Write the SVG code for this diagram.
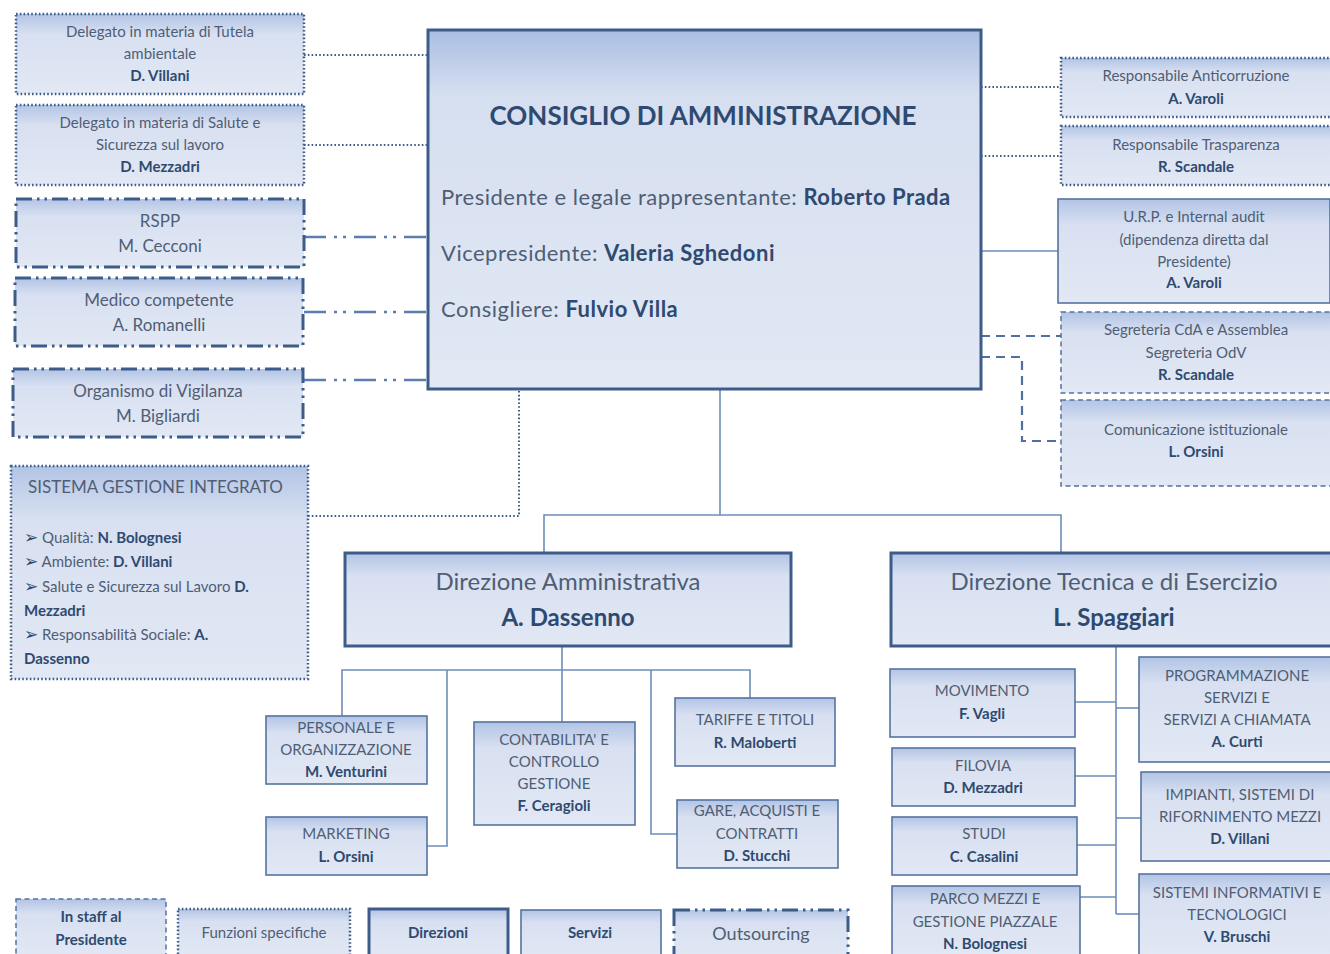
<svg xmlns="http://www.w3.org/2000/svg" width="1330" height="954" viewBox="0 0 1330 954">
<defs>
<linearGradient id="g" x1="0" y1="0" x2="0" y2="1">
<stop offset="0" stop-color="#a9bee2"/>
<stop offset="0.18" stop-color="#d6dff0"/>
<stop offset="1" stop-color="#e2e8f4"/>
</linearGradient>
<linearGradient id="gs" x1="0" y1="0" x2="0" y2="1">
<stop offset="0" stop-color="#b2c4e5"/>
<stop offset="0.25" stop-color="#d8e0f1"/>
<stop offset="1" stop-color="#e2e8f4"/>
</linearGradient>
<style>
.box{fill:url(#gs)}
.big{fill:url(#g)}
.thick{stroke:#3d5c8a;stroke-width:3}
.thin{stroke:#5573a0;stroke-width:1.6}
.dot{stroke:#3d5c8a;stroke-width:2.5;stroke-dasharray:1.6 2.2}
.dash{stroke:#5573a0;stroke-width:1.5;stroke-dasharray:5 3.5}
.dd{stroke:#3d5c8a;stroke-width:3;stroke-dasharray:16 5 2.5 5 2.5 5}
.c{fill:none;stroke:#6d8dba;stroke-width:1.6}
.cdot{fill:none;stroke:#3d5c8a;stroke-width:2;stroke-dasharray:1.6 2.2}
.cdd{fill:none;stroke:#5b7eae;stroke-width:2.5;stroke-dasharray:22 8 3 6 3 8}
.cdash{fill:none;stroke:#4f71a0;stroke-width:2.2;stroke-dasharray:9 6}
text{font-family:Lato,"Liberation Sans",sans-serif;fill:#4f5e75;font-size:15px}
.m{text-anchor:middle}
.b{font-weight:bold;fill:#2e4a70}
.s17{font-size:17px}
.s22{font-size:22px;letter-spacing:0.5px}
.s24{font-size:24px}
.bul{font-family:"DejaVu Sans",sans-serif;font-size:17px;fill:#2e4a70}
</style>
</defs>

<g id="connectors">
<polyline class="cdot" points="304,55 428,55"/>
<polyline class="cdot" points="304,145 428,145"/>
<polyline class="cdd" points="304,237 428,237"/>
<polyline class="cdd" points="304,312 428,312"/>
<polyline class="cdd" points="304,380 428,380"/>
<polyline class="cdot" points="308,516 519,516 519,390"/>
<polyline class="cdot" points="981,87 1061,87"/>
<polyline class="cdot" points="981,156 1061,156"/>
<polyline class="c" points="981,251 1058,251"/>
<polyline class="cdash" points="981,336 1061,336"/>
<polyline class="cdash" points="981,357 1022,357 1022,441 1061,441"/>
<polyline class="c" points="720,390 720,515"/>
<polyline class="c" points="544,553 544,515 1061,515 1061,553"/>
<polyline class="c" points="562,646 562,670"/>
<polyline class="c" points="342,716 342,670 750,670 750,698"/>
<polyline class="c" points="447,670 447,846 427,846"/>
<polyline class="c" points="562,670 562,722"/>
<polyline class="c" points="651,670 651,834 677,834"/>
<polyline class="c" points="1116,646 1116,914"/>
<polyline class="c" points="1075,702 1116,702"/>
<polyline class="c" points="1075,776 1116,776"/>
<polyline class="c" points="1077,845 1116,845"/>
<polyline class="c" points="1080,897 1116,897"/>
<polyline class="c" points="1116,708 1139,708"/>
<polyline class="c" points="1116,818 1141,818"/>
<polyline class="c" points="1116,914 1139,914"/>
</g>

<g id="n-tutela">
<rect class="box dot" x="16" y="14" width="288" height="80"/>
<text class="m" x="160" y="37">Delegato in materia di Tutela</text>
<text class="m" x="160" y="59">ambientale</text>
<text class="m b" x="160" y="81">D. Villani</text>
</g>
<g id="n-salute">
<rect class="box dot" x="16" y="105" width="288" height="80"/>
<text class="m" x="160" y="128">Delegato in materia di Salute e</text>
<text class="m" x="160" y="150">Sicurezza sul lavoro</text>
<text class="m b" x="160" y="172">D. Mezzadri</text>
</g>
<g id="n-rspp">
<rect class="box dd" x="16" y="199" width="288" height="68"/>
<text class="m s17" x="160" y="227">RSPP</text>
<text class="m s17" x="160" y="252">M. Cecconi</text>
</g>
<g id="n-medico">
<rect class="box dd" x="15" y="278" width="288" height="68"/>
<text class="m s17" x="159" y="306">Medico competente</text>
<text class="m s17" x="159" y="331">A. Romanelli</text>
</g>
<g id="n-odv">
<rect class="box dd" x="13" y="369" width="290" height="68"/>
<text class="m s17" x="158" y="397">Organismo di Vigilanza</text>
<text class="m s17" x="158" y="422">M. Bigliardi</text>
</g>
<g id="n-sgi">
<rect class="box dot" x="11" y="466" width="297" height="213"/>
<text class="s17" x="28" y="493">SISTEMA GESTIONE INTEGRATO</text>
<text x="24" y="543"><tspan class="bul">➢</tspan> Qualità: <tspan class="b">N. Bolognesi</tspan></text>
<text x="24" y="567"><tspan class="bul">➢</tspan> Ambiente:  <tspan class="b">D. Villani</tspan></text>
<text x="24" y="592"><tspan class="bul">➢</tspan> Salute e Sicurezza sul Lavoro <tspan class="b">D.</tspan></text>
<text class="b" x="24" y="616">Mezzadri</text>
<text x="24" y="640"><tspan class="bul">➢</tspan> Responsabilità Sociale: <tspan class="b">A.</tspan></text>
<text class="b" x="24" y="664">Dassenno</text>
</g>

<g id="n-cda">
<rect class="big thick" x="428" y="30" width="553" height="359"/>
<text class="m b" x="703" y="125" style="font-size:26px">CONSIGLIO DI AMMINISTRAZIONE</text>
<text class="s22" x="441" y="205">Presidente e legale rappresentante: <tspan class="b">Roberto Prada</tspan></text>
<text class="s22" x="441" y="261">Vicepresidente: <tspan class="b">Valeria Sghedoni</tspan></text>
<text class="s22" x="441" y="317">Consigliere: <tspan class="b">Fulvio Villa</tspan></text>
</g>

<g id="n-anticorruzione">
<rect class="box dot" x="1061" y="58" width="272" height="59"/>
<text class="m" x="1196" y="81">Responsabile Anticorruzione</text>
<text class="m b" x="1196" y="104">A. Varoli</text>
</g>
<g id="n-trasparenza">
<rect class="box dot" x="1061" y="126" width="272" height="59"/>
<text class="m" x="1196" y="150">Responsabile Trasparenza</text>
<text class="m b" x="1196" y="172">R. Scandale</text>
</g>
<g id="n-urp">
<rect class="box thin" x="1058" y="199" width="272" height="104"/>
<text class="m" x="1194" y="222">U.R.P. e Internal audit</text>
<text class="m" x="1194" y="245">(dipendenza diretta dal</text>
<text class="m" x="1194" y="267">Presidente)</text>
<text class="m b" x="1194" y="288">A. Varoli</text>
</g>
<g id="n-segreteria">
<rect class="box dash" x="1061" y="312" width="272" height="81"/>
<text class="m" x="1196" y="335">Segreteria CdA e Assemblea</text>
<text class="m" x="1196" y="358">Segreteria OdV</text>
<text class="m b" x="1196" y="380">R. Scandale</text>
</g>
<g id="n-comunicazione">
<rect class="box dash" x="1061" y="400" width="272" height="86"/>
<text class="m" x="1196" y="435">Comunicazione istituzionale</text>
<text class="m b" x="1196" y="457">L. Orsini</text>
</g>

<g id="n-da">
<rect class="box thick" x="345" y="553" width="446" height="93"/>
<text class="m s24" x="568" y="590">Direzione Amministrativa</text>
<text class="m s24 b" x="568" y="626">A. Dassenno</text>
</g>
<g id="n-dt">
<rect class="box thick" x="891" y="553" width="445" height="93"/>
<text class="m s24" x="1114" y="590">Direzione Tecnica e di Esercizio</text>
<text class="m s24 b" x="1114" y="626">L. Spaggiari</text>
</g>

<g id="n-personale">
<rect class="box thin" x="266" y="716" width="161" height="68"/>
<text class="m" x="346" y="733">PERSONALE E</text>
<text class="m" x="346" y="755">ORGANIZZAZIONE</text>
<text class="m b" x="346" y="777">M. Venturini</text>
</g>
<g id="n-marketing">
<rect class="box thin" x="266" y="817" width="161" height="58"/>
<text class="m" x="346" y="839">MARKETING</text>
<text class="m b" x="346" y="862">L. Orsini</text>
</g>
<g id="n-contabilita">
<rect class="box thin" x="474" y="722" width="161" height="103"/>
<text class="m" x="554" y="745">CONTABILITA' E</text>
<text class="m" x="554" y="767">CONTROLLO</text>
<text class="m" x="554" y="789">GESTIONE</text>
<text class="m b" x="554" y="811">F. Ceragioli</text>
</g>
<g id="n-tariffe">
<rect class="box thin" x="675" y="698" width="160" height="68"/>
<text class="m" x="755" y="725">TARIFFE E TITOLI</text>
<text class="m b" x="755" y="748">R. Maloberti</text>
</g>
<g id="n-gare">
<rect class="box thin" x="677" y="800" width="161" height="68"/>
<text class="m" x="757" y="816">GARE, ACQUISTI E</text>
<text class="m" x="757" y="839">CONTRATTI</text>
<text class="m b" x="757" y="861">D. Stucchi</text>
</g>

<g id="n-movimento">
<rect class="box thin" x="890" y="669" width="185" height="68"/>
<text class="m" x="982" y="696">MOVIMENTO</text>
<text class="m b" x="982" y="719">F. Vagli</text>
</g>
<g id="n-filovia">
<rect class="box thin" x="892" y="748" width="183" height="58"/>
<text class="m" x="983" y="771">FILOVIA</text>
<text class="m b" x="983" y="793">D. Mezzadri</text>
</g>
<g id="n-studi">
<rect class="box thin" x="892" y="817" width="185" height="58"/>
<text class="m" x="984" y="839">STUDI</text>
<text class="m b" x="984" y="862">C. Casalini</text>
</g>
<g id="n-parco">
<rect class="box thin" x="892" y="886" width="188" height="72"/>
<text class="m" x="985" y="904">PARCO MEZZI E</text>
<text class="m" x="985" y="927">GESTIONE PIAZZALE</text>
<text class="m b" x="985" y="949">N. Bolognesi</text>
</g>
<g id="n-programmazione">
<rect class="box thin" x="1139" y="657" width="194" height="105"/>
<text class="m" x="1237" y="681">PROGRAMMAZIONE</text>
<text class="m" x="1237" y="703">SERVIZI E</text>
<text class="m" x="1237" y="725">SERVIZI A CHIAMATA</text>
<text class="m b" x="1237" y="747">A. Curti</text>
</g>
<g id="n-impianti">
<rect class="box thin" x="1141" y="772" width="192" height="89"/>
<text class="m" x="1240" y="800">IMPIANTI, SISTEMI DI</text>
<text class="m" x="1240" y="822">RIFORNIMENTO MEZZI</text>
<text class="m b" x="1240" y="844">D. Villani</text>
</g>
<g id="n-sistemi">
<rect class="box thin" x="1139" y="874" width="194" height="84"/>
<text class="m" x="1237" y="898">SISTEMI INFORMATIVI E</text>
<text class="m" x="1237" y="920">TECNOLOGICI</text>
<text class="m b" x="1237" y="942">V. Bruschi</text>
</g>

<g id="legend-staff">
<rect class="box dash" x="16" y="899" width="150" height="60"/>
<text class="m b" x="91" y="922">In staff al</text>
<text class="m b" x="91" y="945">Presidente</text>
</g>
<g id="legend-funzioni">
<rect class="box dot" x="178" y="909" width="172" height="50"/>
<text class="m" x="264" y="938">Funzioni specifiche</text>
</g>
<g id="legend-direzioni">
<rect class="box thick" x="369" y="909" width="139" height="50"/>
<text class="m b" x="438" y="938">Direzioni</text>
</g>
<g id="legend-servizi">
<rect class="box thin" x="521" y="910" width="140" height="50"/>
<text class="m b" x="590" y="938">Servizi</text>
</g>
<g id="legend-outsourcing">
<rect class="box dd" x="674" y="910" width="174" height="50"/>
<text class="m" x="761" y="940" style="font-size:18px">Outsourcing</text>
</g>
</svg>
